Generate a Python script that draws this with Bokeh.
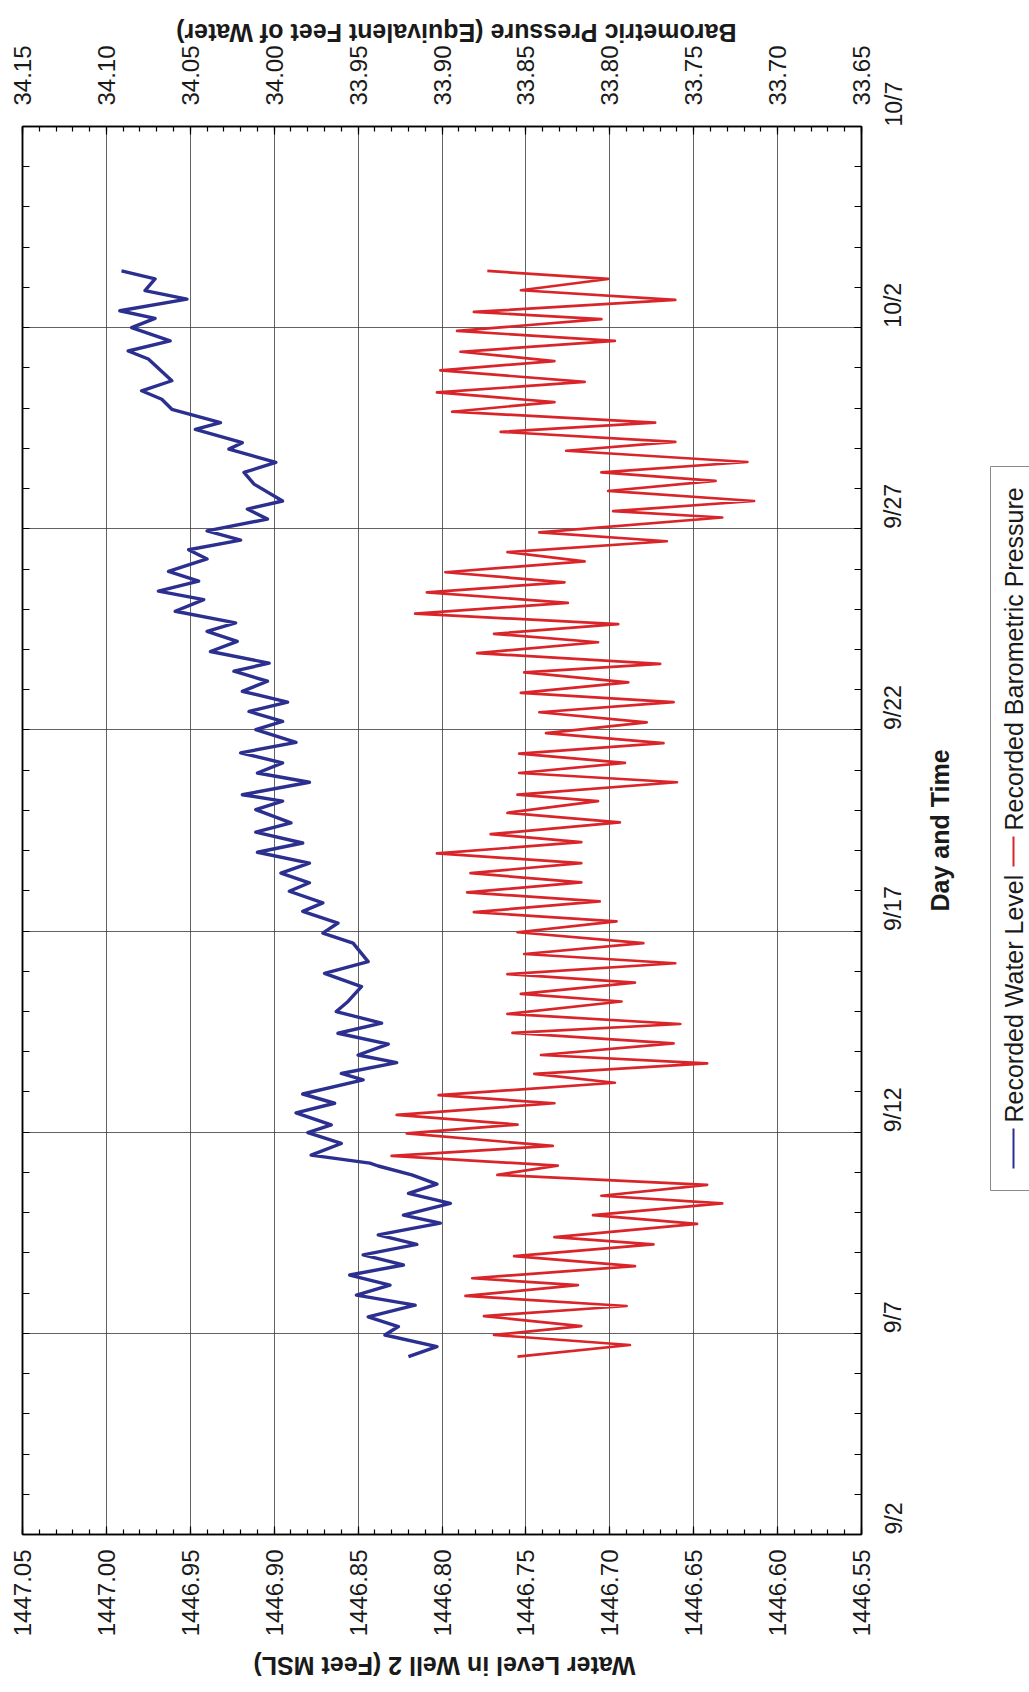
import math
from bokeh.plotting import figure
from bokeh.models import Range1d, LinearAxis, FixedTicker, PrintfTickFormatter
from bokeh.layouts import row
from bokeh.embed import file_html
from bokeh.resources import INLINE
from bokeh.core.properties import value

FONT = "Liberation Sans"

# ---- axis ticks / labels ----
day_ticks = [2, 7, 12, 17, 22, 27, 32, 37]          # day number counted from Sept 1 (10/2 = 32)
day_labels = ["9/2", "9/7", "9/12", "9/17", "9/22", "9/27", "10/2", "10/7"]
water_ticks = [1446.55, 1446.60, 1446.65, 1446.70, 1446.75, 1446.80, 1446.85, 1446.90, 1446.95, 1447.00, 1447.05]
baro_ticks = [33.65, 33.70, 33.75, 33.80, 33.85, 33.90, 33.95, 34.00, 34.05, 34.10, 34.15]

# ---- Recorded Water Level (day, ft MSL) ----
well_day = [6.42, 6.67, 6.96, 7.17, 7.41, 7.70, 7.95, 8.20, 8.45, 8.70, 8.95, 9.21, 9.45, 9.74, 9.94,
            10.23, 10.48, 10.71, 10.94, 11.16, 11.23, 11.43, 11.72, 11.99, 12.18, 12.48, 12.72, 12.95,
            13.30, 13.46, 13.73, 13.92, 14.19, 14.46, 14.71, 15.00, 15.25, 15.62, 15.95, 16.24, 16.70,
            16.95, 17.20, 17.49, 17.70, 17.99, 18.20, 18.44, 18.69, 18.96, 19.19, 19.46, 19.69, 20.02,
            20.23, 20.39, 20.70, 20.93, 21.18, 21.43, 21.69, 22.01, 22.21, 22.46, 22.69, 22.96, 23.21,
            23.46, 23.66, 23.95, 24.20, 24.45, 24.66, 24.95, 25.24, 25.45, 25.70, 25.94, 26.25, 26.48,
            26.72, 26.95, 27.24, 27.49, 27.69, 28.11, 28.40, 28.65, 28.98, 29.14, 29.47, 29.64, 29.97,
            30.22, 30.43, 30.68, 31.22, 31.42, 31.67, 32.00, 32.23, 32.42, 32.71, 32.92, 33.21, 33.41]
well_level = [1446.820, 1446.803, 1446.834, 1446.826, 1446.844, 1446.816, 1446.851, 1446.831, 1446.855,
              1446.823, 1446.847, 1446.815, 1446.838, 1446.801, 1446.823, 1446.795, 1446.820, 1446.803,
              1446.818, 1446.838, 1446.843, 1446.878, 1446.860, 1446.880, 1446.866, 1446.887, 1446.864,
              1446.883, 1446.847, 1446.860, 1446.827, 1446.850, 1446.832, 1446.862, 1446.836, 1446.863,
              1446.856, 1446.848, 1446.870, 1446.844, 1446.853, 1446.871, 1446.862, 1446.883, 1446.871,
              1446.891, 1446.879, 1446.896, 1446.879, 1446.910, 1446.883, 1446.911, 1446.890, 1446.911,
              1446.895, 1446.919, 1446.879, 1446.910, 1446.895, 1446.920, 1446.887, 1446.911, 1446.895,
              1446.915, 1446.892, 1446.919, 1446.904, 1446.924, 1446.903, 1446.938, 1446.922, 1446.940,
              1446.923, 1446.959, 1446.942, 1446.969, 1446.945, 1446.963, 1446.940, 1446.951, 1446.920,
              1446.940, 1446.904, 1446.916, 1446.895, 1446.912, 1446.918, 1446.899, 1446.927, 1446.919,
              1446.947, 1446.932, 1446.961, 1446.967, 1446.979, 1446.961, 1446.975, 1446.987, 1446.962,
              1446.985, 1446.971, 1446.992, 1446.952, 1446.977, 1446.971, 1446.991]

# ---- Recorded Barometric Pressure (day, equivalent ft of water) ----
baro_day = [6.42, 6.71, 6.96, 7.18, 7.43, 7.68, 7.93, 8.20, 8.37, 8.67, 8.92, 9.21, 9.39, 9.72, 9.94,
            10.23, 10.42, 10.69, 10.94, 11.17, 11.41, 11.66, 11.97, 12.19, 12.43, 12.72, 12.92, 13.23,
            13.45, 13.71, 13.92, 14.21, 14.47, 14.69, 14.94, 15.25, 15.44, 15.72, 15.93, 16.20, 16.43,
            16.70, 16.97, 17.24, 17.47, 17.74, 17.96, 18.21, 18.44, 18.69, 18.93, 19.21, 19.41, 19.70,
            19.94, 20.23, 20.39, 20.70, 20.93, 21.18, 21.41, 21.67, 21.92, 22.19, 22.44, 22.69, 22.92,
            23.18, 23.43, 23.64, 23.91, 24.18, 24.39, 24.63, 24.89, 25.16, 25.42, 25.67, 25.92, 26.19,
            26.42, 26.69, 26.91, 27.28, 27.44, 27.69, 27.94, 28.19, 28.40, 28.66, 28.94, 29.16, 29.41,
            29.64, 29.91, 30.15, 30.39, 30.65, 30.94, 31.17, 31.40, 31.67, 31.92, 32.21, 32.39, 32.69,
            32.93, 33.21, 33.41]
baro_level = [33.855, 33.788, 33.869, 33.817, 33.875, 33.790, 33.886, 33.819, 33.882, 33.785, 33.857,
              33.774, 33.833, 33.748, 33.810, 33.733, 33.805, 33.742, 33.867, 33.831, 33.930, 33.834,
              33.921, 33.855, 33.927, 33.833, 33.902, 33.797, 33.845, 33.742, 33.841, 33.762, 33.858,
              33.758, 33.861, 33.793, 33.853, 33.785, 33.861, 33.761, 33.851, 33.780, 33.855, 33.796,
              33.881, 33.806, 33.885, 33.817, 33.883, 33.817, 33.903, 33.817, 33.871, 33.794, 33.861,
              33.807, 33.855, 33.760, 33.854, 33.791, 33.854, 33.768, 33.838, 33.778, 33.842, 33.762,
              33.853, 33.789, 33.851, 33.770, 33.879, 33.807, 33.869, 33.795, 33.916, 33.825, 33.909,
              33.827, 33.898, 33.815, 33.861, 33.766, 33.842, 33.733, 33.798, 33.714, 33.801, 33.737,
              33.805, 33.718, 33.826, 33.761, 33.865, 33.773, 33.894, 33.833, 33.903, 33.815, 33.901,
              33.833, 33.889, 33.797, 33.891, 33.805, 33.881, 33.761, 33.853, 33.801, 33.873]

series_names = ["Recorded Water Level", "Recorded Barometric Pressure"]
series_colors = ["#2b2f8f", "#d9252a"]
title_bottom = "Water Level in Well 2 (Feet MSL)"
title_top = "Barometric Pressure (Equivalent Feet of Water)"
title_right = "Day and Time"

TXT = "#1a1a1a"

# ---- layout (canvas pixels; the canvas sits at the page origin) ----
W, H = 1029, 1692
FR_L, FR_R, FR_T, FR_B = 22, 861, 126, 1534
MAIN_W = 921          # main figure width; the side panel figure fills the rest

p = figure(frame_width=FR_R - FR_L, frame_height=FR_B - FR_T,
           min_border_left=FR_L, min_border_right=MAIN_W - FR_R, min_border_top=FR_T,
           min_border_bottom=H - FR_B,
           x_range=Range1d(1447.05, 1446.55), y_range=Range1d(2, 37),
           y_axis_location="right", output_backend="svg", toolbar_location=None)
p.extra_x_ranges = {"baro": Range1d(34.15, 33.65)}
p.outline_line_color = "black"
p.outline_line_width = 1.5
p.background_fill_color = "white"
p.border_fill_color = "white"


def water_at(xp):
    return 1447.05 + (xp - FR_L) * (1446.55 - 1447.05) / (FR_R - FR_L)


def baro_at(xp):
    return 34.15 + (xp - FR_L) * (33.65 - 34.15) / (FR_R - FR_L)


def style_axis(ax, size):
    ax.major_label_text_font = FONT
    ax.major_label_text_font_size = size
    ax.major_label_text_color = TXT
    ax.major_label_orientation = math.pi / 2
    ax.axis_line_color = "black"
    ax.axis_line_width = 1.5
    ax.major_tick_in = 8
    ax.major_tick_out = 0
    ax.minor_tick_in = 5
    ax.minor_tick_out = 0
    ax.major_tick_line_color = "black"
    ax.major_tick_line_width = 1.2
    ax.minor_tick_line_color = "black"
    ax.minor_tick_line_width = 1.2


def title_axis(pos, text, standoff, **kw):
    ax = LinearAxis(ticker=FixedTicker(ticks=[pos], minor_ticks=[]),
                    major_label_overrides={pos: text}, **kw)
    ax.axis_line_color = None
    ax.major_tick_line_color = None
    ax.minor_tick_line_color = None
    ax.major_tick_in = 0
    ax.major_tick_out = 0
    ax.major_label_orientation = math.pi
    ax.major_label_standoff = standoff
    ax.major_label_text_font = FONT
    ax.major_label_text_font_size = "25px"
    ax.major_label_text_font_style = "bold"
    ax.major_label_text_color = TXT
    return ax


water_minor = [round(1446.55 + 0.01 * i, 2) for i in range(51)]
baro_minor = [round(33.65 + 0.01 * i, 2) for i in range(51)]
day_minor = list(range(2, 38))

xb = p.xaxis[0]
xb.ticker = FixedTicker(ticks=water_ticks, minor_ticks=water_minor)
xb.formatter = PrintfTickFormatter(format="%.2f")
style_axis(xb, "24px")
xb.major_label_standoff = 15

xt = LinearAxis(x_range_name="baro", ticker=FixedTicker(ticks=baro_ticks, minor_ticks=baro_minor),
                formatter=PrintfTickFormatter(format="%.2f"))
style_axis(xt, "24px")
xt.major_label_standoff = 21
p.add_layout(xt, "above")

# upside-down axis titles (anchored at the end of the text that lies on the given position)
p.add_layout(title_axis(water_at(253), title_bottom, 26), "below")
p.add_layout(title_axis(baro_at(736), title_top, 10, x_range_name="baro"), "above")

yr = p.yaxis[0]
yr.ticker = FixedTicker(ticks=day_ticks, minor_ticks=day_minor)
yr.major_label_overrides = {t: lab for t, lab in zip(day_ticks, day_labels)}
style_axis(yr, "23px")
yr.major_tick_in = 7
yr.minor_tick_in = 7
yr.major_label_standoff = 32

yl = LinearAxis(ticker=FixedTicker(ticks=[], minor_ticks=day_minor))
style_axis(yl, "23px")
yl.minor_tick_in = 7
p.add_layout(yl, "left")

p.xgrid.grid_line_color = "#3a3a3a"
p.xgrid.grid_line_width = 0.8
p.ygrid.grid_line_color = "#3a3a3a"
p.ygrid.grid_line_width = 0.8

p.line(x=well_level, y=well_day, line_color=series_colors[0], line_width=3.4, line_join="round")
p.line(x=baro_level, y=baro_day, x_range_name="baro", line_color=series_colors[1], line_width=2.7,
       line_join="round")

# ---- side panel: "Day and Time" and the rotated legend (page pixel coordinates) ----
side = figure(frame_width=W - MAIN_W, frame_height=FR_B - FR_T, min_border_left=0, min_border_right=0,
              min_border_top=FR_T, min_border_bottom=H - FR_B,
              x_range=Range1d(MAIN_W, W), y_range=Range1d(FR_B, FR_T),
              x_axis_location=None, y_axis_location=None,
              output_backend="svg", toolbar_location=None)
side.grid.visible = False
side.outline_line_color = None
side.background_fill_color = "white"
side.border_fill_color = "white"

side.text(x=[938], y=[830], text=[title_right], angle=math.pi / 2, text_align="center",
          text_baseline="middle", text_font=value(FONT), text_font_size="25px",
          text_font_style="bold", text_color=TXT)

side.quad(left=[989], right=[1028], top=[466], bottom=[1190], fill_color=None,
          line_color="#8a8a8a", line_width=1)
LEG_X = 1012
side.segment(x0=[LEG_X, LEG_X], y0=[1168, 866], x1=[LEG_X, LEG_X], y1=[1128, 836],
             line_color=series_colors, line_width=2)
side.text(x=[LEG_X, LEG_X], y=[1122, 830], text=series_names, angle=math.pi / 2, text_align="left",
          text_baseline="middle", text_font=value(FONT), text_font_size="25px", text_color=TXT)

layout = row(p, side)
open("out.html", "w").write(file_html(layout, INLINE))
